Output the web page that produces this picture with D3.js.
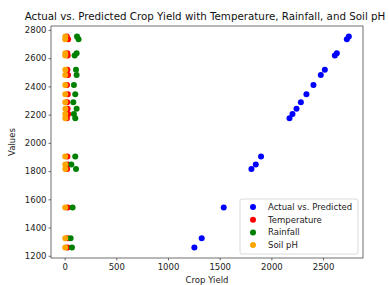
<!DOCTYPE html>
<html>
<head>
<meta charset="utf-8">
<script src="https://cdn.jsdelivr.net/npm/d3@7"></script>
<style>
  body { margin: 0; background: #fff; }
  svg { display: block; font-family: "DejaVu Sans", sans-serif; }
</style>
</head>
<body>
<svg id="chart" width="389" height="285"></svg>
<script>
// one row per test sample, sorted by actual yield
const actual = [1259, 1325, 1542, 1814, 1846, 1903, 2175, 2205, 2241, 2288, 2345, 2410, 2481, 2517, 2618, 2635, 2734, 2753];
const predicted = [1255, 1326, 1539, 1807, 1849, 1900, 2175, 2204, 2243, 2285, 2339, 2407, 2478, 2517, 2614, 2633, 2730, 2749];
const temperature = [28, 26, 30, 24, 32, 27, 22, 35, 29, 25, 31, 23, 33, 27, 30, 26, 34, 21];
const rainfall = [71, 58, 77, 110, 65, 103, 103, 90, 116, 84, 103, 90, 116, 110, 97, 116, 135, 120];
const soilPh = [6.1, 6.5, 5.8, 7.0, 6.3, 5.5, 6.8, 6.0, 7.2, 5.9, 6.6, 6.4, 5.7, 6.9, 6.2, 6.7, 5.6, 7.1];

const xTicks = [0, 500, 1000, 1500, 2000, 2500];
const yTicks = [1200, 1400, 1600, 1800, 2000, 2200, 2400, 2600, 2800];

const series = [
  { name: "Actual vs. Predicted", color: "blue", xs: predicted },
  { name: "Temperature", color: "red", xs: temperature },
  { name: "Rainfall", color: "green", xs: rainfall },
  { name: "Soil pH", color: "orange", xs: soilPh }
];

const svg = d3.select("#chart");
const margin = { top: 26, right: 26, bottom: 27, left: 51 };
const width = 389, height = 285;

// matplotlib-like 5% padding around the data
function padded(vals) {
  const [lo, hi] = d3.extent(vals);
  const p = (hi - lo) * 0.05;
  return [lo - p, hi + p];
}
const allX = series.flatMap(s => s.xs);

const x = d3.scaleLinear(padded(allX), [margin.left, width - margin.right]);
const y = d3.scaleLinear(padded(actual), [height - margin.bottom, margin.top]);

// points
for (const s of series) {
  svg.append("g")
    .attr("fill", s.color)
    .selectAll("circle")
    .data(s.xs.map((v, i) => [v, actual[i]]))
    .join("circle")
    .attr("cx", d => x(d[0]))
    .attr("cy", d => y(d[1]))
    .attr("r", 3);
}

// axes
const xAxis = svg.append("g")
  .attr("transform", `translate(0,${height - margin.bottom})`)
  .call(d3.axisBottom(x).tickValues(xTicks).tickFormat(d3.format("d")).tickSize(2.5).tickPadding(3));
const yAxis = svg.append("g")
  .attr("transform", `translate(${margin.left},0)`)
  .call(d3.axisLeft(y).tickValues(yTicks).tickFormat(d3.format("d")).tickSize(2.5).tickPadding(2));

for (const g of [xAxis, yAxis]) {
  g.select(".domain").remove();
  g.selectAll("text").attr("font-family", "DejaVu Sans").attr("font-size", 8.5).attr("fill", "#222");
  g.selectAll("line").attr("stroke", "#333").attr("stroke-width", 0.7);
}

// frame
svg.append("rect")
  .attr("x", margin.left)
  .attr("y", margin.top)
  .attr("width", width - margin.left - margin.right)
  .attr("height", height - margin.top - margin.bottom)
  .attr("fill", "none")
  .attr("stroke", "#333")
  .attr("stroke-width", 0.7);

// title and labels
const cx = (margin.left + width - margin.right) / 2;
svg.append("text")
  .attr("x", cx - 2).attr("y", 20)
  .attr("text-anchor", "middle")
  .attr("font-size", 10.3)
  .attr("fill", "#111")
  .text("Actual vs. Predicted Crop Yield with Temperature, Rainfall, and Soil pH");

svg.append("text")
  .attr("x", cx).attr("y", 283)
  .attr("text-anchor", "middle")
  .attr("font-size", 8.5)
  .attr("fill", "#222")
  .text("Crop Yield");

svg.append("text")
  .attr("transform", `translate(15,${(margin.top + height - margin.bottom) / 2}) rotate(-90)`)
  .attr("text-anchor", "middle")
  .attr("font-size", 8.5)
  .attr("fill", "#222")
  .text("Values");

// legend
const legend = svg.append("g").attr("transform", "translate(240,199)");
legend.append("rect")
  .attr("width", 118).attr("height", 55)
  .attr("rx", 2)
  .attr("fill", "#fff").attr("fill-opacity", 0.8)
  .attr("stroke", "#ccc").attr("stroke-width", 0.7);

const item = legend.selectAll("g.item")
  .data(series)
  .join("g")
  .attr("class", "item")
  .attr("transform", (d, i) => `translate(0,${8 + i * 12.7})`);
item.append("circle").attr("cx", 13).attr("r", 3).attr("fill", d => d.color);
item.append("text")
  .attr("x", 28).attr("dy", "0.35em")
  .attr("font-size", 8.5).attr("fill", "#222")
  .text(d => d.name);
</script>
</body>
</html>
